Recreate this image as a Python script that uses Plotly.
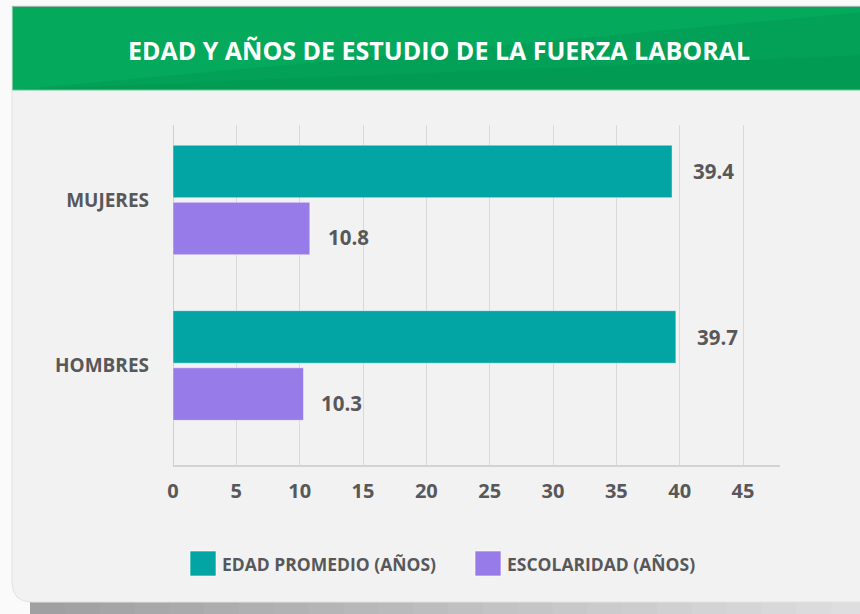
import plotly.graph_objects as go

# ---- data ----
categories = ["HOMBRES", "MUJERES"]
edad_promedio = [39.7, 39.4]
escolaridad = [10.3, 10.8]
series_names = ["EDAD PROMEDIO (AÑOS)", "ESCOLARIDAD (AÑOS)"]
series_colors = ["#02a5a3", "#977be8"]
x_ticks = [0, 5, 10, 15, 20, 25, 30, 35, 40, 45]
title_text = "EDAD Y AÑOS DE ESTUDIO DE LA FUERZA LABORAL"

W, H = 860, 614
ML, MR, MT, MB = 173, 80, 125, 149
PW, PH = W - ML - MR, H - MT - MB


def px(x):
    return (x - ML) / PW


def py(y):
    return 1 - (y - MT) / PH


TXT = "#58585a"
FONT = "Open Sans"

fig = go.Figure()
fig.add_trace(go.Bar(
    y=categories, x=escolaridad, orientation="h", name=series_names[1],
    marker=dict(color=series_colors[1], line=dict(color="rgba(255,255,255,0.45)", width=1)),
    showlegend=False, hoverinfo="skip",
))
fig.add_trace(go.Bar(
    y=categories, x=edad_promedio, orientation="h", name=series_names[0],
    marker=dict(color=series_colors[0], line=dict(color="rgba(255,255,255,0.45)", width=1)),
    showlegend=False, hoverinfo="skip",
))

# value labels
for cat, v in zip(categories, edad_promedio):
    fig.add_annotation(x=v, y=cat, text=f"{v:.1f}", showarrow=False, xanchor="left",
                       yanchor="middle", xshift=19, yshift=29,
                       font=dict(family=FONT, size=20.5, color=TXT, weight="bold"))
for cat, v in zip(categories, escolaridad):
    fig.add_annotation(x=v, y=cat, text=f"{v:.1f}", showarrow=False, xanchor="left",
                       yanchor="middle", xshift=16, yshift=-37,
                       font=dict(family=FONT, size=20.5, color=TXT, weight="bold"))

shapes = []
# bottom shadow (smooth grey ramp)
steps = 24
sx0, sx1 = 30, 866
for i in range(steps):
    a = sx0 + (sx1 - sx0) * i / steps
    b = sx0 + (sx1 - sx0) * (i + 1) / steps + 1
    t = i / (steps - 1)
    c = int(160 + (222 - 160) * t)
    shapes.append(dict(type="rect", xref="paper", yref="paper",
                       x0=px(a), x1=px(b), y0=py(614), y1=py(596),
                       fillcolor=f"rgb({c},{c},{c + 2})", line=dict(width=0), layer="below"))
# card background
r = 20
x0, x1, y0, y1 = 12, 866, 6, 602
path = (f"M {px(x0)},{py(y0)} L {px(x1)},{py(y0)} L {px(x1)},{py(y1)} "
        f"L {px(x0 + r)},{py(y1)} Q {px(x0)},{py(y1)} {px(x0)},{py(y1 - r)} Z")
shapes.append(dict(type="path", xref="paper", yref="paper", path=path,
                   fillcolor="#f2f2f2", line=dict(color="#e2e2e2", width=1), layer="below"))
# header band
shapes.append(dict(type="rect", xref="paper", yref="paper",
                   x0=px(12.5), x1=px(866), y0=py(90), y1=py(6),
                   fillcolor="#04a95c", line=dict(width=0), layer="below"))
shapes.append(dict(type="line", xref="paper", yref="paper",
                   x0=px(12.5), x1=px(866), y0=py(6.5), y1=py(6.5),
                   line=dict(color="#9fb5a9", width=1), layer="below"))
shapes.append(dict(type="path", xref="paper", yref="paper",
                   path=f"M {px(12.5)},{py(90)} L {px(866)},{py(12)} L {px(866)},{py(90)} Z",
                   fillcolor="rgba(0,60,30,0.07)", line=dict(width=0), layer="below"))
shapes.append(dict(type="path", xref="paper", yref="paper",
                   path=f"M {px(12.5)},{py(90)} L {px(866)},{py(55)} L {px(866)},{py(90)} Z",
                   fillcolor="rgba(0,60,30,0.05)", line=dict(width=0), layer="below"))
shapes.append(dict(type="line", xref="paper", yref="paper",
                   x0=px(12.5), x1=px(866), y0=py(90), y1=py(90),
                   line=dict(color="#5fc891", width=1), layer="below"))

# legend (manual, large swatches)
legend_pos = [(190, 220), (475, 505)]
for (sx, tx), name, col in zip(legend_pos, series_names, series_colors):
    shapes.append(dict(type="rect", xref="paper", yref="paper",
                       x0=px(sx), x1=px(sx + 26), y0=py(576), y1=py(551),
                       fillcolor=col, line=dict(color="rgba(255,255,255,0.6)", width=1)))
    fig.add_annotation(xref="paper", yref="paper", x=px(tx), y=py(564), text=name,
                       showarrow=False, xanchor="left", yanchor="middle",
                       font=dict(family=FONT, size=17.5, color=TXT, weight="bold"))

fig.update_layout(
    width=W, height=H,
    margin=dict(l=ML, r=MR, t=MT, b=MB, pad=0),
    paper_bgcolor="#fafafa",
    plot_bgcolor="rgba(0,0,0,0)",
    barmode="group",
    bargap=0.31,
    bargroupgap=0.08,
    showlegend=False,
    shapes=shapes,
    title=dict(text=title_text, x=439 / W, xanchor="center", y=1 - 51 / H, yanchor="middle",
               xref="container", yref="container",
               font=dict(family=FONT, size=25, color="white", weight="bold")),
    font=dict(family=FONT, color=TXT),
)
fig.update_xaxes(
    range=[0, 47.92], tickvals=x_ticks, ticktext=[str(t) for t in x_ticks],
    showgrid=True, gridcolor="#d9d9d9", gridwidth=1,
    zeroline=True, zerolinecolor="#cfcfcf", zerolinewidth=1,
    showline=True, linecolor="#d3d3d3", linewidth=2,
    ticks="", ticklabelstandoff=7,
    tickfont=dict(family=FONT, size=20, color=TXT, weight="bold"),
    fixedrange=True,
)
fig.update_yaxes(
    type="category", categoryorder="array", categoryarray=categories,
    range=[-0.601, 1.453], showgrid=False, zeroline=False, showline=False,
    ticks="", ticklabelstandoff=23,
    tickfont=dict(family=FONT, size=19, color=TXT, weight="bold"),
    fixedrange=True,
)

fig.write_html("out.html", config={"displayModeBar": False},
               post_script="document.body.style.margin='0';document.body.style.background='#fafafa';")
